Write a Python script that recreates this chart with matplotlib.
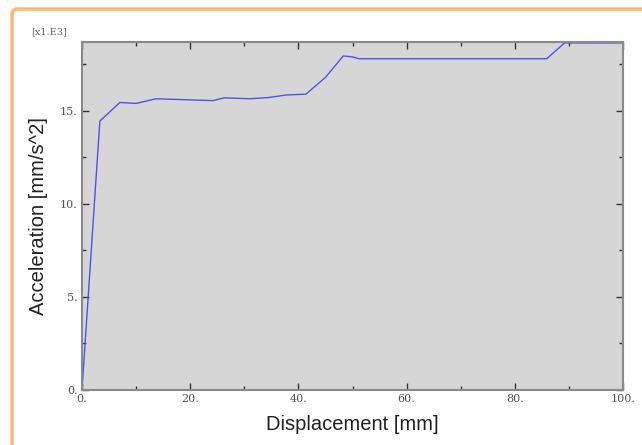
import matplotlib
matplotlib.use('Agg')
import matplotlib.pyplot as plt
from matplotlib.patches import FancyBboxPatch
from matplotlib.ticker import MultipleLocator, FuncFormatter

# displacement [mm] and acceleration [x1e3 mm/s^2]
disp = [0.0, 3.3, 7.0, 10.0, 13.7, 24.2, 26.3, 31.0, 34.6, 37.7, 41.4, 45.0,
        48.3, 50.0, 51.2, 85.9, 89.2, 100.0]
accel = [0.0, 14.45, 15.45, 15.4, 15.65, 15.55, 15.7, 15.65, 15.72, 15.85, 15.9, 16.8,
         17.95, 17.9, 17.8, 17.8, 18.65, 18.65]

fig = plt.figure(figsize=(6.42, 4.45), dpi=100)

# orange frame around the viewport (display coords, origin bottom-left)
frame = FancyBboxPatch((12, -100), 700, 536, boxstyle='round,pad=0,rounding_size=6',
                       transform=None, fill=False, edgecolor='#ffb873', linewidth=2.5)
fig.patches.append(frame)

ax = fig.add_axes([82 / 642, 55 / 445, 541 / 642, 348 / 445])
ax.set_facecolor('#d6d6d6')
ax.plot(disp, accel, color='#5050f0', linewidth=1.0)

ax.set_xlim(0, 100)
ax.set_ylim(0, 18.7)
ax.xaxis.set_major_locator(MultipleLocator(20))
ax.xaxis.set_minor_locator(MultipleLocator(10))
ax.yaxis.set_major_locator(MultipleLocator(5))
ax.yaxis.set_minor_locator(MultipleLocator(2.5))
fmt = FuncFormatter(lambda v, p: '%d.' % round(v))
ax.xaxis.set_major_formatter(fmt)
ax.yaxis.set_major_formatter(fmt)
ax.tick_params(which='both', direction='in', top=True, right=True, color='#333333',
               labelsize=8, labelcolor='#555555', pad=3)
ax.tick_params(which='major', length=5, width=1)
ax.tick_params(which='minor', length=3, width=1)
for lbl in ax.get_xticklabels() + ax.get_yticklabels():
    lbl.set_family('DejaVu Serif')
for s in ax.spines.values():
    s.set_color('#8a8a8a')
    s.set_linewidth(1.5)

ax.set_xlabel('Displacement [mm]', fontsize=14.5, family='Liberation Sans', color='#222222', labelpad=8)
ax.set_ylabel('Acceleration [mm/s^2]', fontsize=14.5, family='Liberation Sans', color='#222222', labelpad=9)

fig.text(31 / 642, 1 - 32 / 445, '[x1.E3]', fontsize=7, color='#666666',
         family='DejaVu Serif', va='center', ha='left')

fig.savefig('out.png', dpi=100)
